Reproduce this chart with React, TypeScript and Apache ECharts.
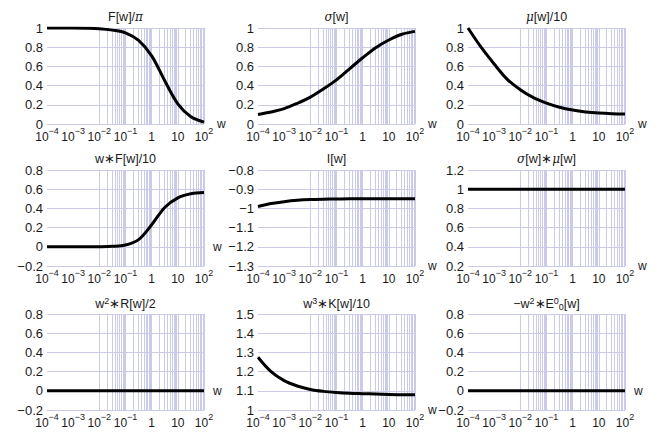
import React, { useEffect, useRef } from "react";
import * as echarts from "echarts";

// Sample points (w), half-decade steps from 1e-4 to 1e2
const W = [1e-4, 3.162e-4, 1e-3, 3.162e-3, 1e-2, 3.162e-2, 1e-1, 3.162e-1, 1, 3.162, 10, 31.62, 100];

const fOverPi = [1.0, 1.0, 1.0, 0.998, 0.993, 0.978, 0.95, 0.87, 0.71, 0.45, 0.21, 0.075, 0.02];
const sigma = [0.1, 0.125, 0.16, 0.215, 0.28, 0.365, 0.46, 0.575, 0.69, 0.795, 0.875, 0.935, 0.965];
const muOver10 = [1.0, 0.8, 0.625, 0.465, 0.357, 0.274, 0.217, 0.174, 0.145, 0.126, 0.114, 0.107, 0.104];
const wF = [0, 0, 0, 0, 0.001, 0.005, 0.018, 0.075, 0.23, 0.41, 0.51, 0.553, 0.565];
const iW = [-0.99, -0.975, -0.965, -0.958, -0.954, -0.952, -0.951, -0.95, -0.95, -0.95, -0.95, -0.95, -0.95];
const sigmaMu = [1, 1, 1, 1, 1, 1, 1, 1, 1, 1, 1, 1, 1];
const w2R = [0, 0, 0, 0, 0, 0, 0, 0, 0, 0, 0, 0, 0];
const w3K = [1.275, 1.2, 1.153, 1.125, 1.107, 1.097, 1.091, 1.087, 1.085, 1.083, 1.081, 1.08, 1.08];
const w2E = [0, 0, 0, 0, 0, 0, 0, 0, 0, 0, 0, 0, 0];

const titles = [
  "F[w]/{i|π}",
  "{i|σ}[w]",
  "{i|μ}[w]/10",
  "w∗F[w]/10",
  "I[w]",
  "{i|σ}[w]∗{i|μ}[w]",
  "w{sup|2}∗R[w]/2",
  "w{sup|3}∗K[w]/10",
  "−w{sup|2}∗E{sup|0}{sub|0}[w]",
];
const seriesData = [fOverPi, sigma, muOver10, wF, iW, sigmaMu, w2R, w3K, w2E];
const yMin = [0, 0, 0, -0.2, -1.3, 0.2, -0.2, 1, -0.2];
const yMax = [1, 1, 1, 0.8, -0.8, 1.2, 0.8, 1.5, 0.8];
const yStep = [0.2, 0.2, 0.2, 0.2, 0.1, 0.2, 0.2, 0.1, 0.2];

const GRID_COLOR = "#cacae9";
const FONT = "Liberation Sans";
const TXT = "#1a1a1a";

// vertical log grid lines (1..9 x 10^k)
const vLines: number[] = [];
for (let k = -4; k <= 1; k++) {
  for (let m = 1; m <= 9; m++) vLines.push(Number((m * Math.pow(10, k)).toPrecision(3)));
}
vLines.push(100);

const colLeft = [47, 258, 468];
const rowTop = [28, 170, 314];
const GW = 157;
const GH = 96;

function xLabel(v: number): string {
  const e = Math.round(Math.log10(v));
  if (e === 0) return "{b|1}";
  if (e === 1) return "{b|10}";
  const es = e < 0 ? "−" + String(-e) : String(e);
  return "{b|10}{s|" + es + "}";
}

function yLabel(v: number): string {
  const r = Math.round(v * 10) / 10;
  return String(r).replace("-", "−");
}

export default function App() {
  const ref = useRef<HTMLDivElement>(null);
  useEffect(() => {
    if (!ref.current) return;
    const chart = echarts.init(ref.current, undefined, { renderer: "svg" });
    const grid: any[] = [];
    const xAxis: any[] = [];
    const yAxis: any[] = [];
    const series: any[] = [];
    const title: any[] = [];
    for (let i = 0; i < 9; i++) {
      const r = Math.floor(i / 3);
      const c = i % 3;
      grid.push({ left: colLeft[c], top: rowTop[r], width: GW, height: GH, containLabel: false });
      xAxis.push({
        type: "log",
        gridIndex: i,
        logBase: 10,
        min: 1e-4,
        max: 1e2,
        interval: 1,
        name: "w",
        nameLocation: "end",
        nameGap: 9,
        nameTextStyle: { fontFamily: FONT, fontSize: 12, color: TXT, verticalAlign: "middle", padding: [6, 0, 0, 0] },
        axisLine: { show: false },
        axisTick: { show: false },
        splitLine: { show: false },
        axisLabel: {
          margin: 2,
          formatter: xLabel,
          rich: {
            b: { fontFamily: FONT, fontSize: 12, color: TXT, verticalAlign: "bottom", lineHeight: 17 },
            s: { fontFamily: FONT, fontSize: 9, color: TXT, verticalAlign: "top", lineHeight: 17 },
          },
        },
      });
      yAxis.push({
        type: "value",
        gridIndex: i,
        min: yMin[i],
        max: yMax[i],
        interval: yStep[i],
        axisLine: { show: false },
        axisTick: { show: false },
        splitLine: { show: true, lineStyle: { color: GRID_COLOR, width: 1 } },
        axisLabel: { fontFamily: FONT, fontSize: 13, color: TXT, margin: 4, formatter: yLabel },
      });
      series.push({
        type: "line",
        xAxisIndex: i,
        yAxisIndex: i,
        data: W.map((w, j) => [w, seriesData[i][j]]),
        showSymbol: false,
        smooth: 0.35,
        lineStyle: { color: "#000", width: 3 },
        z: 5,
        markLine: {
          silent: true,
          symbol: ["none", "none"],
          label: { show: false },
          lineStyle: { color: GRID_COLOR, width: 1, type: "solid" },
          data: vLines.map((v) => ({ xAxis: v })),
          z: 1,
        },
      });
      title.push({
        text: titles[i],
        left: colLeft[c] + GW / 2,
        top: rowTop[r] - 18,
        padding: 0,
        textAlign: "center",
        textStyle: {
          fontFamily: FONT,
          fontSize: 12.5,
          fontWeight: "normal",
          color: TXT,
          rich: {
            i: { fontFamily: "DejaVu Serif", fontStyle: "italic", fontSize: 12, color: TXT },
            sup: { fontFamily: FONT, fontSize: 9, color: TXT, verticalAlign: "top", lineHeight: 15 },
            sub: { fontFamily: FONT, fontSize: 9, color: TXT, verticalAlign: "bottom", lineHeight: 15 },
          },
        },
      });
    }
    chart.setOption({
      animation: false,
      backgroundColor: "#ffffff",
      title,
      grid,
      xAxis,
      yAxis,
      series,
    });
    return () => chart.dispose();
  }, []);
  return (
    <div
      ref={ref}
      style={{ position: "fixed", left: 0, top: 0, width: 664, height: 438, background: "#fff" }}
    />
  );
}
